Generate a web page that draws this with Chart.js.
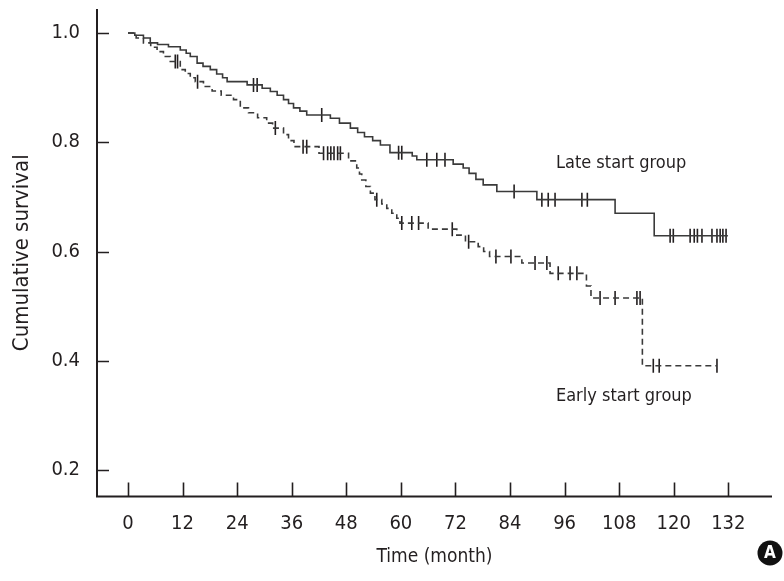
<!DOCTYPE html>
<html>
<head>
<meta charset="utf-8">
<script src="https://cdn.jsdelivr.net/npm/chart.js@4.4.1/dist/chart.umd.min.js"></script>
<style>
  html, body { margin: 0; padding: 0; background: #fff; }
  #wrap { position: relative; width: 784px; height: 581px; }
</style>
</head>
<body>
<div id="wrap"><canvas id="kmChart"></canvas></div>
<script>
// Kaplan-Meier estimates (month, cumulative survival)
const lateTime = [0, 1.5, 3.4, 4.9, 6.5, 8.9, 11.5, 12.8, 13.7, 15.2, 16.5, 18.1, 19.5, 20.8, 21.8, 26.2, 29.5, 31.3, 32.8, 34.2,
                  35.3, 36.4, 37.8, 39.3, 44.5, 46.5, 48.9, 50.5, 52.0, 53.8, 55.5, 57.6, 62.5, 63.5, 71.5, 73.7, 75.0, 76.5, 78.1, 81.1,
                  89.9, 107.1, 115.7, 131.9];
const lateSurv = [1.000, 0.996, 0.991, 0.982, 0.979, 0.975, 0.969, 0.963, 0.957, 0.945, 0.939, 0.933, 0.925, 0.918, 0.911, 0.905, 0.899, 0.893, 0.886, 0.878,
                  0.871, 0.863, 0.857, 0.850, 0.844, 0.835, 0.826, 0.818, 0.810, 0.803, 0.795, 0.781, 0.775, 0.768, 0.760, 0.753, 0.743, 0.732, 0.722, 0.710,
                  0.695, 0.670, 0.629, 0.629];
const lateCensor = [27.6, 28.4, 42.6, 59.5, 60.2, 65.7, 67.9, 69.7, 84.9, 91.0, 92.4, 93.9, 99.8, 101.0,
                    119.2, 119.9, 123.6, 124.5, 125.2, 126.2, 128.4, 129.5, 130.2, 130.8, 131.5];

const earlyTime = [0, 1.8, 3.4, 5.0, 6.4, 7.8, 9.3, 11.5, 12.6, 13.7, 14.8, 16.6, 18.5, 20.5, 23.2, 24.7, 26.5, 28.5, 30.5, 31.8,
                   34.2, 35.3, 36.5, 42.0, 48.5, 50.3, 50.9, 51.4, 52.3, 53.3, 54.3, 55.8, 56.9, 58.0, 59.1, 59.8, 66.0, 72.3, 74.2, 77.0,
                   78.2, 79.5, 86.6, 92.8, 100.8, 101.8, 113.1, 129.5];
const earlySurv = [1.000, 0.991, 0.982, 0.974, 0.966, 0.957, 0.948, 0.933, 0.926, 0.918, 0.911, 0.902, 0.894, 0.886, 0.878, 0.863, 0.854, 0.845, 0.835, 0.826,
                   0.814, 0.803, 0.792, 0.780, 0.766, 0.753, 0.742, 0.731, 0.719, 0.707, 0.695, 0.687, 0.679, 0.670, 0.661, 0.652, 0.641, 0.630, 0.618, 0.609,
                   0.600, 0.591, 0.579, 0.560, 0.537, 0.515, 0.391, 0.391];
const earlyCensor = [10.4, 10.9, 15.3, 32.4, 38.5, 39.3, 43.0, 43.9, 44.6, 45.3, 46.1, 46.7, 54.7, 60.2, 62.4, 63.9,
                     71.3, 74.9, 80.9, 84.2, 89.5, 92.1, 94.6, 97.2, 98.7, 103.8, 107.1, 111.9, 112.6, 115.5, 116.8, 129.5];

const xTicks = [0, 12, 24, 36, 48, 60, 72, 84, 96, 108, 120, 132];
const yTicks = [0.2, 0.4, 0.6, 0.8, 1.0];

const FONT = "'Liberation Sans Narrow', 'DejaVu Sans Condensed', sans-serif";
const INK = '#231f20';
const LINE = '#3a3a3a';

// survival value of the step function at time t
function survAt(times, surv, t) {
    let s = surv[0];
    for (let i = 0; i < times.length; i++) {
        if (times[i] <= t) s = surv[i];
    }
    return s;
}

function curve(times, surv) {
    return times.map((t, i) => ({ x: t, y: surv[i] }));
}

function censorPoints(times, surv, cens) {
    return cens.map(t => ({ x: t, y: survAt(times, surv, t) }));
}

// axis lines, inward ticks, group labels and the panel badge
const kmDecor = {
    id: 'kmDecor',
    afterDraw(chart) {
        const ctx = chart.ctx;
        const xs = chart.scales.x;
        const ys = chart.scales.y;
        const a = chart.chartArea;

        ctx.save();
        ctx.strokeStyle = INK;
        ctx.lineWidth = 2;
        ctx.beginPath();
        ctx.moveTo(a.left, a.top);
        ctx.lineTo(a.left, a.bottom);
        ctx.lineTo(a.right, a.bottom);
        ctx.stroke();

        ctx.lineWidth = 1.6;
        ctx.beginPath();
        xTicks.forEach(v => {
            const px = Math.round(xs.getPixelForValue(v)) + 0.5;
            ctx.moveTo(px, a.bottom);
            ctx.lineTo(px, a.bottom - 14);
        });
        yTicks.forEach(v => {
            const py = Math.round(ys.getPixelForValue(v)) + 0.5;
            ctx.moveTo(a.left, py);
            ctx.lineTo(a.left + 12, py);
        });
        ctx.stroke();

        ctx.fillStyle = INK;
        ctx.font = '18px ' + FONT;
        ctx.textAlign = 'left';
        ctx.textBaseline = 'middle';
        ctx.fillText('Late start group', xs.getPixelForValue(94.1), ys.getPixelForValue(0.762));
        ctx.fillText('Early start group', xs.getPixelForValue(94.1), ys.getPixelForValue(0.334));

        ctx.beginPath();
        ctx.arc(770, 553, 12.5, 0, Math.PI * 2);
        ctx.fillStyle = '#111';
        ctx.fill();
        ctx.fillStyle = '#fff';
        ctx.font = 'bold 17px ' + FONT;
        ctx.textAlign = 'center';
        ctx.fillText('A', 770, 554);
        ctx.restore();
    }
};

const ctx = document.getElementById('kmChart').getContext('2d');
const kmChart = new Chart(ctx, {
    type: 'line',
    data: {
        datasets: [{
            label: 'Late start group',
            data: curve(lateTime, lateSurv),
            stepped: true,
            borderColor: LINE,
            borderWidth: 1.6,
            pointRadius: 0,
            fill: false
        }, {
            label: 'Early start group',
            data: curve(earlyTime, earlySurv),
            stepped: true,
            borderColor: LINE,
            borderWidth: 1.6,
            borderDash: [6, 4],
            pointRadius: 0,
            fill: false
        }, {
            label: 'Late censored',
            data: censorPoints(lateTime, lateSurv, lateCensor),
            showLine: false,
            pointStyle: 'line',
            rotation: 90,
            pointRadius: 7,
            pointBorderWidth: 1.6,
            pointBorderColor: INK
        }, {
            label: 'Early censored',
            data: censorPoints(earlyTime, earlySurv, earlyCensor),
            showLine: false,
            pointStyle: 'line',
            rotation: 90,
            pointRadius: 7,
            pointBorderWidth: 1.6,
            pointBorderColor: INK
        }]
    },
    options: {
        responsive: true,
        maintainAspectRatio: false,
        animation: false,
        events: [],
        layout: {
            padding: { top: 9, right: 12, left: 0, bottom: 0 }
        },
        plugins: {
            legend: { display: false },
            tooltip: { enabled: false }
        },
        scales: {
            x: {
                type: 'linear',
                min: -6.81,
                max: 141.6,
                border: { display: false },
                grid: { display: false, drawTicks: false },
                afterBuildTicks: s => { s.ticks = xTicks.map(v => ({ value: v })); },
                afterFit: s => {
                    s.height = 84.5;
                    s.paddingLeft = 0;
                    s.paddingRight = 0;
                },
                ticks: {
                    padding: 15,
                    color: INK,
                    font: { family: FONT, size: 20 },
                    maxRotation: 0,
                    autoSkip: false
                },
                title: {
                    display: true,
                    text: 'Time (month)',
                    color: INK,
                    font: { family: FONT, size: 19 },
                    padding: { top: 0, bottom: 13 }
                }
            },
            y: {
                min: 0.1515,
                max: 1.044,
                border: { display: false },
                grid: { display: false, drawTicks: false },
                afterBuildTicks: s => { s.ticks = yTicks.map(v => ({ value: v })); },
                afterFit: s => {
                    s.width = 97;
                    s.paddingTop = 0;
                    s.paddingBottom = 0;
                },
                ticks: {
                    padding: 17,
                    color: INK,
                    font: { family: FONT, size: 20 },
                    callback: v => v.toFixed(1)
                },
                title: {
                    display: true,
                    text: 'Cumulative survival',
                    color: INK,
                    font: { family: FONT, size: 22 },
                    padding: { top: 9, bottom: 0 }
                }
            }
        }
    },
    plugins: [kmDecor]
});
</script>
</body>
</html>
